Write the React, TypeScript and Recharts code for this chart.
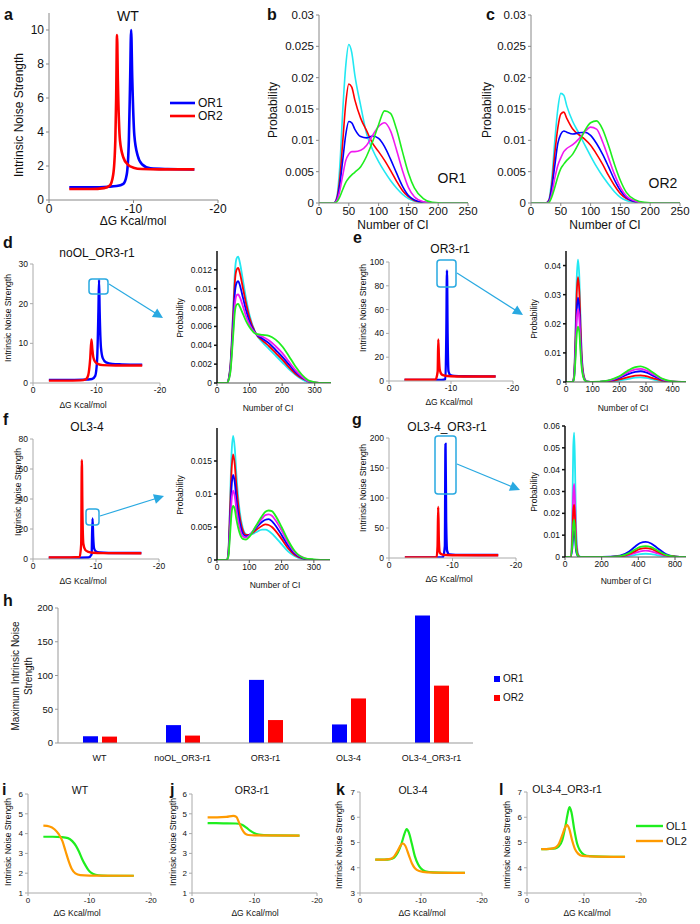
import React from "react";
import { LineChart, Line, XAxis, YAxis, BarChart, Bar } from "recharts";

const FONT = "'Liberation Sans', Arial, Helvetica, sans-serif";

const BLUE = "#0000FF";
const RED = "#FF0000";
const CYAN = "#22E8F2";
const MAGENTA = "#F019F0";
const GREEN = "#1EEE1E";
const ORANGE = "#FF9A00";
const SKY = "#29A9E1";

// ---- a: WT noise strength
const aOR1X = [-2.4, -5, -7, -8, -8.8, -9.2, -9.45, -9.6, -9.72, -9.85, -10.1, -10.5, -11, -12, -14, -17.2];
const aOR1Y = [0.75, 0.75, 0.78, 0.82, 0.95, 1.5, 3.5, 7, 10, 7.2, 3.8, 2.6, 2.1, 1.86, 1.82, 1.8];
const aOR2X = [-2.4, -5, -6.5, -7.2, -7.6, -7.85, -7.95, -8.05, -8.15, -8.4, -8.8, -9.3, -10, -11, -13, -17.2];
const aOR2Y = [0.65, 0.65, 0.7, 0.85, 1.5, 3.5, 6, 9.7, 7, 3.5, 2.5, 2.1, 1.9, 1.82, 1.8, 1.8];

// ---- b: OR1 distributions
const bX = [0, 25, 30, 35, 40, 45, 50, 55, 60, 70, 80, 90, 100, 110, 120, 130, 140, 150, 160, 175, 190, 210, 250];
const bCyan = [0, 0, 0.001, 0.006, 0.015, 0.022, 0.0253, 0.024, 0.0205, 0.0155, 0.011, 0.0085, 0.0066, 0.005, 0.0036, 0.0024, 0.0014, 0.0007, 0.0003, 0.0001, 0, 0, 0];
const bRed = [0, 0, 0.0008, 0.004, 0.01, 0.016, 0.019, 0.0185, 0.0165, 0.0135, 0.0115, 0.0095, 0.0082, 0.0068, 0.0052, 0.0035, 0.002, 0.001, 0.0004, 0.0001, 0, 0, 0];
const bBlue = [0, 0, 0.0006, 0.003, 0.007, 0.011, 0.013, 0.0128, 0.0118, 0.0106, 0.0104, 0.0107, 0.0103, 0.009, 0.007, 0.0048, 0.0027, 0.0012, 0.0005, 0.0001, 0, 0, 0];
const bMagenta = [0, 0, 0.0004, 0.002, 0.0045, 0.0068, 0.0078, 0.0082, 0.0082, 0.0084, 0.0092, 0.0108, 0.0122, 0.0128, 0.0115, 0.0085, 0.0052, 0.0025, 0.001, 0.0002, 0, 0, 0];
const bGreen = [0, 0, 0.0002, 0.001, 0.0022, 0.0033, 0.004, 0.0045, 0.0049, 0.0058, 0.0075, 0.0098, 0.0125, 0.0147, 0.0143, 0.0118, 0.0082, 0.0048, 0.0024, 0.0007, 0.0001, 0, 0];

// ---- c: OR2 distributions
const cX = bX;
const cCyan = [0, 0, 0.0005, 0.004, 0.01, 0.015, 0.0175, 0.0172, 0.0155, 0.013, 0.0112, 0.0093, 0.0075, 0.0058, 0.0043, 0.003, 0.0018, 0.0009, 0.0004, 0.0001, 0, 0, 0];
const cRed = [0, 0, 0.0004, 0.003, 0.008, 0.012, 0.0142, 0.0145, 0.0135, 0.0118, 0.0109, 0.0102, 0.0092, 0.0078, 0.0062, 0.0044, 0.0028, 0.0015, 0.0007, 0.0002, 0, 0, 0];
const cBlue = [0, 0, 0.0003, 0.0025, 0.006, 0.0095, 0.011, 0.0115, 0.0113, 0.011, 0.0112, 0.0113, 0.0108, 0.0095, 0.0078, 0.0058, 0.0037, 0.002, 0.0009, 0.0002, 0, 0, 0];
const cMagenta = [0, 0, 0.0002, 0.0015, 0.004, 0.006, 0.0072, 0.0082, 0.0087, 0.0093, 0.0102, 0.0113, 0.0121, 0.0118, 0.0098, 0.0072, 0.0046, 0.0025, 0.0011, 0.0003, 0, 0, 0];
const cGreen = [0, 0, 0.0001, 0.001, 0.0025, 0.0042, 0.0055, 0.0062, 0.0068, 0.0078, 0.0095, 0.0115, 0.0128, 0.0131, 0.0118, 0.0092, 0.0062, 0.0036, 0.0017, 0.0005, 0.0001, 0, 0];

// ---- d: noOL_OR3-r1
const dOR1X = [-2.5, -5, -8, -9.3, -9.8, -10.1, -10.3, -10.4, -10.5, -10.7, -11, -11.5, -12.5, -14, -17.2];
const dOR1Y = [0.8, 0.8, 0.85, 1.0, 1.8, 6, 18, 26, 18, 9, 6.2, 5.2, 4.8, 4.7, 4.6];
const dOR2X = [-2.5, -5, -7.5, -8.3, -8.7, -9.0, -9.2, -9.35, -9.5, -9.8, -10.2, -11, -13, -17.2];
const dOR2Y = [0.6, 0.6, 0.65, 0.9, 2, 6, 11, 8.5, 6.5, 5.3, 4.8, 4.5, 4.4, 4.4];
const dX = [0, 30, 40, 50, 55, 60, 65, 70, 80, 90, 100, 120, 140, 160, 180, 200, 220, 240, 260, 280, 300, 320, 350];
const dCyan = [0, 0, 0.0015, 0.008, 0.0118, 0.0132, 0.0134, 0.0128, 0.0108, 0.0088, 0.0072, 0.0052, 0.0043, 0.0036, 0.0029, 0.0022, 0.0015, 0.0009, 0.0004, 0.0001, 0, 0, 0];
const dRed = [0, 0, 0.0014, 0.0075, 0.0108, 0.012, 0.0122, 0.0117, 0.01, 0.0083, 0.0069, 0.0052, 0.0045, 0.0039, 0.0032, 0.0025, 0.0017, 0.001, 0.0005, 0.0002, 0, 0, 0];
const dBlue = [0, 0, 0.0012, 0.0066, 0.0096, 0.0106, 0.0108, 0.0104, 0.009, 0.0076, 0.0065, 0.0052, 0.0047, 0.0042, 0.0035, 0.0028, 0.002, 0.0012, 0.0006, 0.0002, 0, 0, 0];
const dMagenta = [0, 0, 0.001, 0.0058, 0.0084, 0.0093, 0.0094, 0.0091, 0.0081, 0.007, 0.0062, 0.0052, 0.0049, 0.0045, 0.0039, 0.0032, 0.0023, 0.0014, 0.0007, 0.0002, 0.0001, 0, 0];
const dGreen = [0, 0, 0.0009, 0.0052, 0.0076, 0.0083, 0.0084, 0.0081, 0.0073, 0.0065, 0.0059, 0.0052, 0.0051, 0.005, 0.0046, 0.0039, 0.0029, 0.0018, 0.0009, 0.0003, 0.0001, 0, 0];

// ---- e: OR3-r1
const eOR1X = [-2.5, -6, -8.5, -9.1, -9.25, -9.35, -9.45, -9.6, -9.9, -10.5, -12, -17.2];
const eOR1Y = [0.8, 0.8, 0.9, 1.5, 40, 93, 40, 8, 5, 4.3, 4, 3.9];
const eOR2X = [-2.5, -6, -7.5, -7.85, -7.95, -8.05, -8.2, -8.5, -9, -10, -12, -17.2];
const eOR2Y = [1, 1, 1.2, 8, 35, 20, 9, 5.5, 4.5, 4, 3.8, 3.8];
const eX = [0, 25, 30, 35, 40, 45, 50, 55, 60, 70, 80, 100, 150, 180, 200, 230, 260, 280, 300, 330, 360, 400, 450];
const eCyan = [0, 0, 0.002, 0.015, 0.035, 0.042, 0.036, 0.02, 0.008, 0.0012, 0.0001, 0, 0.0001, 0.0003, 0.0005, 0.001, 0.0015, 0.0016, 0.0014, 0.0008, 0.0003, 0, 0];
const eRed = [0, 0, 0.002, 0.013, 0.03, 0.036, 0.031, 0.018, 0.007, 0.001, 0.0001, 0, 0.0002, 0.0005, 0.0009, 0.0016, 0.0022, 0.0023, 0.002, 0.0012, 0.0005, 0.0001, 0];
const eBlue = [0, 0, 0.0015, 0.01, 0.024, 0.029, 0.025, 0.014, 0.0055, 0.0008, 0.0001, 0, 0.0003, 0.0008, 0.0014, 0.0026, 0.0035, 0.0037, 0.0033, 0.002, 0.0008, 0.0001, 0];
const eMagenta = [0, 0, 0.0013, 0.009, 0.021, 0.025, 0.022, 0.012, 0.005, 0.0007, 0.0001, 0, 0.0003, 0.001, 0.0017, 0.0032, 0.0043, 0.0045, 0.004, 0.0025, 0.001, 0.0002, 0];
const eGreen = [0, 0, 0.001, 0.007, 0.016, 0.019, 0.017, 0.0095, 0.004, 0.0006, 0.0001, 0, 0.0004, 0.0012, 0.002, 0.0038, 0.0051, 0.0054, 0.0048, 0.003, 0.0012, 0.0002, 0];

// ---- f: OL3-4
const fOR1X = [-2.5, -6, -8.8, -9.3, -9.45, -9.55, -9.7, -10, -10.5, -12, -17.2];
const fOR1Y = [0.8, 0.8, 1.0, 3, 27, 15, 7, 5, 4.3, 4, 4];
const fOR2X = [-2.5, -6, -7.4, -7.65, -7.75, -7.85, -8.0, -8.3, -8.8, -9.5, -11, -17.2];
const fOR2Y = [1, 1, 1.3, 10, 66, 30, 10, 6, 4.8, 4.2, 3.9, 3.8];
const fX = [0, 30, 35, 40, 45, 50, 55, 60, 70, 80, 90, 100, 120, 140, 150, 160, 170, 180, 200, 220, 240, 270, 300, 350];
const fCyan = [0, 0, 0.001, 0.008, 0.016, 0.0188, 0.017, 0.013, 0.0075, 0.0048, 0.0039, 0.0038, 0.0042, 0.0046, 0.0046, 0.0044, 0.004, 0.0035, 0.0024, 0.0013, 0.0006, 0.0001, 0, 0];
const fRed = [0, 0, 0.001, 0.007, 0.0135, 0.016, 0.0145, 0.0113, 0.0067, 0.0045, 0.0038, 0.0038, 0.0045, 0.0052, 0.0054, 0.0053, 0.005, 0.0045, 0.0032, 0.0018, 0.0008, 0.0002, 0, 0];
const fBlue = [0, 0, 0.0008, 0.0055, 0.011, 0.0129, 0.0118, 0.0092, 0.0058, 0.004, 0.0036, 0.0038, 0.0048, 0.0058, 0.0061, 0.0062, 0.0059, 0.0053, 0.0038, 0.0022, 0.001, 0.0002, 0, 0];
const fMagenta = [0, 0, 0.0006, 0.0045, 0.009, 0.0105, 0.0097, 0.0077, 0.0049, 0.0036, 0.0034, 0.0037, 0.005, 0.0063, 0.0068, 0.0069, 0.0067, 0.0061, 0.0045, 0.0026, 0.0012, 0.0003, 0, 0];
const fGreen = [0, 0, 0.0005, 0.0035, 0.007, 0.0082, 0.0077, 0.0062, 0.0041, 0.0032, 0.0031, 0.0035, 0.0051, 0.0067, 0.0073, 0.0075, 0.0074, 0.0068, 0.005, 0.003, 0.0014, 0.0003, 0.0001, 0];

// ---- g: OL3-4_OR3-r1
const gOR1X = [-2.5, -6, -8.5, -8.8, -8.9, -9.0, -9.15, -9.5, -10.5, -17.2];
const gOR1Y = [0.8, 0.8, 1.5, 20, 190, 60, 12, 6, 5.2, 5];
const gOR2X = [-2.5, -6, -7.5, -7.65, -7.75, -7.85, -8.0, -8.3, -9, -11, -17.2];
const gOR2Y = [1, 1, 1.5, 20, 85, 30, 9, 6, 5, 4.6, 4.5];
const gX = [0, 30, 40, 45, 50, 55, 60, 70, 80, 100, 200, 300, 350, 380, 410, 440, 470, 500, 550, 600, 660];
const gCyan = [0, 0, 0.02, 0.05, 0.057, 0.04, 0.015, 0.002, 0.0002, 0, 0, 0.0001, 0.0005, 0.0009, 0.0013, 0.0015, 0.0013, 0.0009, 0.0003, 0.0001, 0];
const gMagenta = [0, 0, 0.012, 0.029, 0.0335, 0.024, 0.009, 0.0012, 0.0001, 0, 0, 0.0002, 0.001, 0.0018, 0.0026, 0.0029, 0.0026, 0.0018, 0.0006, 0.0001, 0];
const gRed = [0, 0, 0.008, 0.021, 0.024, 0.017, 0.0065, 0.0009, 0.0001, 0, 0, 0.0003, 0.0014, 0.0026, 0.0037, 0.0041, 0.0037, 0.0026, 0.0008, 0.0002, 0];
const gGreen = [0, 0, 0.006, 0.015, 0.017, 0.012, 0.0045, 0.0006, 0.0001, 0, 0, 0.0004, 0.0018, 0.0033, 0.0046, 0.005, 0.0045, 0.0032, 0.001, 0.0002, 0];
const gBlue = [0, 0, 0.004, 0.01, 0.012, 0.0085, 0.003, 0.0004, 0, 0, 0, 0.0006, 0.0025, 0.0046, 0.0064, 0.0069, 0.0062, 0.0044, 0.0014, 0.0003, 0];
const gTickLabels = ["0", "200", "400", "800"];

// ---- h: maximum noise strength
const hCategories = ["WT", "noOL_OR3-r1", "OR3-r1", "OL3-4", "OL3-4_OR3-r1"];
const hOR1 = [10, 26.5, 93.5, 27.5, 189];
const hOR2 = [9.5, 11, 34, 66, 85];

// ---- i-l: OL1 / OL2
const iOL1X = [-2.5, -4, -5.5, -6.5, -7.2, -7.8, -8.3, -8.8, -9.3, -9.8, -10.3, -11, -12, -14, -17.2];
const iOL1Y = [3.84, 3.84, 3.82, 3.77, 3.62, 3.38, 3.08, 2.72, 2.42, 2.17, 2.02, 1.92, 1.88, 1.87, 1.87];
const iOL2X = [-2.5, -3.5, -4.3, -5, -5.6, -6.1, -6.6, -7.1, -7.7, -8.5, -10, -17.2];
const iOL2Y = [4.4, 4.36, 4.22, 3.97, 3.62, 3.12, 2.62, 2.22, 1.99, 1.9, 1.88, 1.87];
const jOL1X = [-2.5, -5, -7, -8, -8.7, -9.3, -10, -10.7, -11.5, -13, -17.2];
const jOL1Y = [4.53, 4.52, 4.51, 4.45, 4.3, 4.15, 4.02, 3.95, 3.92, 3.91, 3.9];
const jOL2X = [-2.5, -4, -5.5, -6.6, -7.1, -7.5, -8, -8.5, -9, -10, -17.2];
const jOL2Y = [4.82, 4.82, 4.84, 4.9, 4.84, 4.58, 4.22, 4.0, 3.93, 3.91, 3.9];
const kOL1X = [-2.5, -4, -5, -5.6, -6.2, -6.8, -7.3, -7.65, -8, -8.5, -9, -9.5, -10, -10.7, -12, -17.2];
const kOL1Y = [4.32, 4.32, 4.34, 4.4, 4.6, 4.95, 5.35, 5.53, 5.4, 4.95, 4.45, 4.15, 3.97, 3.86, 3.82, 3.8];
const kOL2X = [-2.5, -4, -5, -5.6, -6.2, -6.7, -7.0, -7.4, -8, -8.5, -9, -9.7, -11, -17.2];
const kOL2Y = [4.32, 4.32, 4.35, 4.45, 4.68, 4.9, 4.97, 4.88, 4.5, 4.18, 3.98, 3.87, 3.82, 3.8];
const lOL1X = [-2.5, -4, -5, -5.6, -6.2, -6.7, -7.1, -7.45, -7.8, -8.3, -8.8, -9.3, -10, -11, -13, -17.2];
const lOL1Y = [4.74, 4.75, 4.77, 4.85, 5.1, 5.6, 6.1, 6.4, 6.2, 5.5, 4.95, 4.68, 4.52, 4.46, 4.44, 4.43];
const lOL2X = [-2.5, -4, -5, -5.6, -6.2, -6.7, -7.0, -7.4, -7.9, -8.4, -9, -9.7, -11, -17.2];
const lOL2Y = [4.74, 4.75, 4.8, 4.95, 5.3, 5.6, 5.7, 5.55, 5.1, 4.75, 4.55, 4.47, 4.45, 4.43];

const dgTicks = [0, -10, -20];
const zip = (xs: number[], ys: number[]) => xs.map((x, i) => ({ x, y: ys[i] }));

type S = { name: string; color: string; xs: number[]; ys: number[] };

function LinePanel(p: {
  box: number[];
  xDomain: number[];
  xTicks: number[];
  xFmt?: (v: number, i: number) => string;
  reversed?: boolean;
  yDomain: number[];
  yTicks: number[];
  series: S[];
  fs: number;
  yw: number;
  xh?: number;
  mr?: number;
  sw: number;
  axis?: string;
  yAxisColor?: string;
  yAxisWidth?: number;
}) {
  const [x0, y0, x1, y1] = p.box;
  const mt = 6;
  const mr = p.mr ?? 8;
  const xh = p.xh ?? 16;
  const w = x1 - x0 + p.yw + mr;
  const h = y1 - y0 + mt + xh;
  const axis = p.axis ?? "#999";
  return (
    <div style={{ position: "absolute", left: x0 - p.yw, top: y0 - mt }}>
      <LineChart width={w} height={h} margin={{ top: mt, right: mr, left: 0, bottom: 0 }}>
        <XAxis
          dataKey="x"
          type="number"
          domain={p.xDomain}
          ticks={p.xTicks}
          reversed={p.reversed}
          allowDataOverflow
          interval={0}
          height={xh}
          tickSize={3}
          tickMargin={1}
          stroke={axis}
          tick={{ fontSize: p.fs, fill: "#111" }}
          tickFormatter={p.xFmt}
        />
        <YAxis
          type="number"
          domain={p.yDomain}
          ticks={p.yTicks}
          allowDataOverflow
          interval={0}
          width={p.yw}
          tickSize={3}
          tickMargin={2}
          stroke={p.yAxisColor ?? axis}
          strokeWidth={p.yAxisWidth ?? 1}
          tick={{ fontSize: p.fs, fill: "#111" }}
        />
        {p.series.map((s) => (
          <Line
            key={s.name}
            name={s.name}
            data={zip(s.xs, s.ys)}
            dataKey="y"
            type="monotone"
            stroke={s.color}
            strokeWidth={p.sw}
            dot={false}
            isAnimationActive={false}
          />
        ))}
      </LineChart>
    </div>
  );
}

function T(p: { x: number; y: number; s: number; rot?: boolean; bold?: boolean; a?: string; children: React.ReactNode }) {
  const tx = p.a === "start" ? "0" : "-50%";
  return (
    <div
      style={{
        position: "absolute",
        left: p.x,
        top: p.y,
        fontSize: p.s,
        fontWeight: p.bold ? 700 : 400,
        lineHeight: 1,
        whiteSpace: "nowrap",
        color: "#111",
        transform: `translate(${tx}, -50%)${p.rot ? " rotate(-90deg)" : ""}`,
      }}
    >
      {p.children}
    </div>
  );
}

function arrowHead(x1: number, y1: number, x2: number, y2: number) {
  const dx = x2 - x1;
  const dy = y2 - y1;
  const len = Math.hypot(dx, dy);
  const ux = dx / len;
  const uy = dy / len;
  const bx = x2 - ux * 10;
  const by = y2 - uy * 10;
  const px = -uy * 5;
  const py = ux * 5;
  return `${x2},${y2} ${bx + px},${by + py} ${bx - px},${by - py}`;
}

function Callout({ r, a }: { r: number[]; a: number[] }) {
  return (
    <g>
      <rect x={r[0]} y={r[1]} width={r[2]} height={r[3]} rx={3} fill="none" stroke={SKY} strokeWidth={1.5} />
      <line x1={a[0]} y1={a[1]} x2={a[2] - (a[2] - a[0]) * 0.1} y2={a[3] - (a[3] - a[1]) * 0.1} stroke={SKY} strokeWidth={1.2} />
      <polygon points={arrowHead(a[0], a[1], a[2], a[3])} fill={SKY} />
    </g>
  );
}

const distSeries = (xs: number[], c: number[], r: number[], b: number[], m: number[], g: number[]): S[] => [
  { name: "cyan", color: CYAN, xs, ys: c },
  { name: "red", color: RED, xs, ys: r },
  { name: "blue", color: BLUE, xs, ys: b },
  { name: "magenta", color: MAGENTA, xs, ys: m },
  { name: "green", color: GREEN, xs, ys: g },
];

const orSeries = (bx: number[], by: number[], rx: number[], ry: number[]): S[] => [
  { name: "OR1", color: BLUE, xs: bx, ys: by },
  { name: "OR2", color: RED, xs: rx, ys: ry },
];

const olSeries = (gx: number[], gy: number[], ox: number[], oy: number[]): S[] => [
  { name: "OL1", color: GREEN, xs: gx, ys: gy },
  { name: "OL2", color: ORANGE, xs: ox, ys: oy },
];

export default function App() {
  const hData = hCategories.map((c, i) => ({ name: c, OR1: hOR1[i], OR2: hOR2[i] }));
  const probTicksB = [0, 0.005, 0.01, 0.015, 0.02, 0.025, 0.03];

  return (
    <div style={{ position: "relative", width: 700, height: 924, fontFamily: FONT, background: "#fff", overflow: "hidden" }}>
      <style>{`body{margin:0}`}</style>

      {/* a */}
      <LinePanel box={[49, 13, 218, 200]} xDomain={[-20, 0]} xTicks={dgTicks} reversed yDomain={[0, 11]} yTicks={[0, 2, 4, 6, 8, 10]}
        series={orSeries(aOR1X, aOR1Y, aOR2X, aOR2Y)} fs={12} yw={30} xh={18} mr={14} sw={2.6} axis="#888" />
      {/* b */}
      <LinePanel box={[319, 15, 468, 203]} xDomain={[0, 250]} xTicks={[0, 50, 100, 150, 200, 250]} yDomain={[0, 0.03]} yTicks={probTicksB}
        series={distSeries(bX, bCyan, bRed, bBlue, bMagenta, bGreen)} fs={11.5} yw={44} xh={18} mr={14} sw={1.6} axis="#888" />
      {/* c */}
      <LinePanel box={[531, 15, 680, 203]} xDomain={[0, 250]} xTicks={[0, 50, 100, 150, 200, 250]} yDomain={[0, 0.03]} yTicks={probTicksB}
        series={distSeries(cX, cCyan, cRed, cBlue, cMagenta, cGreen)} fs={11.5} yw={44} xh={18} mr={16} sw={1.6} axis="#888" />

      {/* d */}
      <LinePanel box={[33, 264, 160, 383]} xDomain={[-20, 0]} xTicks={dgTicks} reversed yDomain={[0, 30]} yTicks={[0, 10, 20, 30]}
        series={orSeries(dOR1X, dOR1Y, dOR2X, dOR2Y)} fs={8.5} yw={22} mr={10} sw={2.4} axis="#aaa" />
      <LinePanel box={[217, 251, 331, 383]} xDomain={[0, 350]} xTicks={[0, 100, 200, 300]} yDomain={[0, 0.014]} yTicks={[0, 0.002, 0.004, 0.006, 0.008, 0.01, 0.012]}
        series={distSeries(dX, dCyan, dRed, dBlue, dMagenta, dGreen)} fs={8.5} yw={40} sw={1.8} axis="#555" yAxisColor="#111" yAxisWidth={1.5} />

      {/* e */}
      <LinePanel box={[389, 262, 513, 381]} xDomain={[-20, 0]} xTicks={dgTicks} reversed yDomain={[0, 100]} yTicks={[0, 20, 40, 60, 80, 100]}
        series={orSeries(eOR1X, eOR1Y, eOR2X, eOR2Y)} fs={8.5} yw={24} mr={10} sw={2.4} axis="#aaa" />
      <LinePanel box={[566, 251, 686, 382]} xDomain={[0, 450]} xTicks={[0, 100, 200, 300, 400]} yDomain={[0, 0.045]} yTicks={[0, 0.01, 0.02, 0.03, 0.04]}
        series={distSeries(eX, eCyan, eRed, eBlue, eMagenta, eGreen)} fs={8.5} yw={34} sw={1.8} axis="#555" yAxisColor="#111" yAxisWidth={1.5} />

      {/* f */}
      <LinePanel box={[33, 439, 159, 559]} xDomain={[-20, 0]} xTicks={dgTicks} reversed yDomain={[0, 80]} yTicks={[0, 20, 40, 60, 80]}
        series={orSeries(fOR1X, fOR1Y, fOR2X, fOR2Y)} fs={8.5} yw={22} mr={10} sw={2.4} axis="#aaa" />
      <LinePanel box={[217, 428, 330, 560]} xDomain={[0, 350]} xTicks={[0, 100, 200, 300]} yDomain={[0, 0.02]} yTicks={[0, 0.005, 0.01, 0.015]}
        series={distSeries(fX, fCyan, fRed, fBlue, fMagenta, fGreen)} fs={8.5} yw={40} sw={1.8} axis="#555" yAxisColor="#111" yAxisWidth={1.5} />

      {/* g */}
      <LinePanel box={[389, 438, 516, 558]} xDomain={[-20, 0]} xTicks={dgTicks} reversed yDomain={[0, 200]} yTicks={[0, 50, 100, 150, 200]}
        series={orSeries(gOR1X, gOR1Y, gOR2X, gOR2Y)} fs={8.5} yw={24} mr={10} sw={2.4} axis="#aaa" />
      <LinePanel box={[565, 426, 686, 557]} xDomain={[0, 660]} xTicks={[0, 200, 400, 600]} xFmt={(_v, i) => gTickLabels[i]} yDomain={[0, 0.06]}
        yTicks={[0, 0.01, 0.02, 0.03, 0.04, 0.05, 0.06]}
        series={[
          { name: "blue", color: BLUE, xs: gX, ys: gBlue },
          { name: "cyan", color: CYAN, xs: gX, ys: gCyan },
          { name: "magenta", color: MAGENTA, xs: gX, ys: gMagenta },
          { name: "red", color: RED, xs: gX, ys: gRed },
          { name: "green", color: GREEN, xs: gX, ys: gGreen },
        ]}
        fs={8.5} yw={34} sw={1.8} axis="#555" yAxisColor="#111" yAxisWidth={1.5} />

      {/* h */}
      <div style={{ position: "absolute", left: 58 - 30, top: 608 - 6 }}>
        <BarChart width={415 + 30 + 8} height={135 + 6 + 24} data={hData} margin={{ top: 6, right: 8, left: 0, bottom: 0 }} barSize={15} barGap={4}>
          <XAxis dataKey="name" height={24} tickSize={0} tickMargin={12} stroke="#999" tick={{ fontSize: 9, fill: "#111" }} interval={0} />
          <YAxis domain={[0, 200]} ticks={[0, 50, 100, 150, 200]} width={30} tickSize={3} tickMargin={2} stroke="#999" tick={{ fontSize: 9.5, fill: "#111" }} />
          <Bar dataKey="OR1" fill={BLUE} isAnimationActive={false} />
          <Bar dataKey="OR2" fill={RED} isAnimationActive={false} />
        </BarChart>
      </div>

      {/* i-l */}
      <LinePanel box={[28, 794, 151, 893]} xDomain={[-20, 0]} xTicks={dgTicks} reversed yDomain={[1, 6]} yTicks={[1, 2, 3, 4, 5, 6]}
        series={olSeries(iOL1X, iOL1Y, iOL2X, iOL2Y)} fs={8} yw={14} mr={10} sw={2.2} axis="#aaa" />
      <LinePanel box={[192, 794, 317, 893]} xDomain={[-20, 0]} xTicks={dgTicks} reversed yDomain={[1, 6]} yTicks={[1, 2, 3, 4, 5, 6]}
        series={olSeries(jOL1X, jOL1Y, jOL2X, jOL2Y)} fs={8} yw={14} mr={10} sw={2.2} axis="#aaa" />
      <LinePanel box={[360, 792, 482, 893]} xDomain={[-20, 0]} xTicks={dgTicks} reversed yDomain={[3, 7]} yTicks={[3, 4, 5, 6, 7]}
        series={olSeries(kOL1X, kOL1Y, kOL2X, kOL2Y)} fs={8} yw={14} mr={10} sw={2.2} axis="#aaa" />
      <LinePanel box={[527, 792, 641, 893]} xDomain={[-20, 0]} xTicks={dgTicks} reversed yDomain={[3, 7]} yTicks={[3, 4, 5, 6, 7]}
        series={olSeries(lOL1X, lOL1Y, lOL2X, lOL2Y)} fs={8} yw={14} mr={10} sw={2.2} axis="#aaa" />

      {/* overlay: callouts and legends */}
      <svg width={700} height={924} style={{ position: "absolute", left: 0, top: 0, pointerEvents: "none" }}>
        <Callout r={[89, 279, 19, 15]} a={[109, 284, 163, 318]} />
        <Callout r={[437, 260, 19, 27]} a={[457, 273, 523, 315]} />
        <Callout r={[86, 509, 13, 16]} a={[100, 516, 164, 496]} />
        <Callout r={[435, 436, 21, 58]} a={[457, 464, 520, 490]} />
        <line x1={170} y1={103} x2={195} y2={103} stroke={BLUE} strokeWidth={2.6} />
        <line x1={170} y1={116} x2={195} y2={116} stroke={RED} strokeWidth={2.6} />
        <line x1={636} y1={826} x2={663} y2={826} stroke={GREEN} strokeWidth={2.4} />
        <line x1={636} y1={841} x2={663} y2={841} stroke={ORANGE} strokeWidth={2.4} />
        <rect x={494} y={676} width={6} height={6} fill={BLUE} />
        <rect x={494} y={695} width={6} height={6} fill={RED} />
      </svg>

      {/* panel letters */}
      <T x={4} y={15} s={16} bold a="start">a</T>
      <T x={267} y={15} s={16} bold a="start">b</T>
      <T x={486} y={15} s={16} bold a="start">c</T>
      <T x={3} y={243} s={16} bold a="start">d</T>
      <T x={353} y={238} s={16} bold a="start">e</T>
      <T x={3} y={420} s={16} bold a="start">f</T>
      <T x={352} y={420} s={16} bold a="start">g</T>
      <T x={3} y={601} s={16} bold a="start">h</T>
      <T x={2} y={790} s={16} bold a="start">i</T>
      <T x={170} y={790} s={16} bold a="start">j</T>
      <T x={336} y={790} s={16} bold a="start">k</T>
      <T x={499} y={790} s={16} bold a="start">l</T>

      {/* a texts */}
      <T x={128} y={16} s={14}>WT</T>
      <T x={133} y={221} s={12}>ΔG Kcal/mol</T>
      <T x={19} y={115} s={12} rot>Intrinsic Noise Strength</T>
      <T x={198} y={103} s={12} a="start">OR1</T>
      <T x={198} y={116} s={12} a="start">OR2</T>

      {/* b, c texts */}
      <T x={393} y={225} s={12}>Number of CI</T>
      <T x={273} y={110} s={12} rot>Probability</T>
      <T x={452} y={178} s={14}>OR1</T>
      <T x={605} y={225} s={12}>Number of CI</T>
      <T x={487} y={110} s={12} rot>Probability</T>
      <T x={663} y={183} s={14}>OR2</T>

      {/* d texts */}
      <T x={97} y={253} s={12}>noOL_OR3-r1</T>
      <T x={83} y={405} s={8.5}>ΔG Kcal/mol</T>
      <T x={8} y={318} s={8.5} rot>Intrinsic Noise Strength</T>
      <T x={268} y={408} s={8.5}>Number of CI</T>
      <T x={180} y={318} s={8.5} rot>Probability</T>

      {/* e texts */}
      <T x={450} y={249} s={12}>OR3-r1</T>
      <T x={449} y={402} s={8.5}>ΔG Kcal/mol</T>
      <T x={363} y={308} s={8.5} rot>Intrinsic Noise Strength</T>
      <T x={623} y={408} s={8.5}>Number of CI</T>
      <T x={534} y={319} s={8.5} rot>Probability</T>

      {/* f texts */}
      <T x={87} y={427} s={12}>OL3-4</T>
      <T x={83} y={581} s={8.5}>ΔG Kcal/mol</T>
      <T x={18} y={492} s={8.5} rot>Intrinsic Noise Strength</T>
      <T x={275} y={585} s={8.5}>Number of CI</T>
      <T x={180} y={495} s={8.5} rot>Probability</T>

      {/* g texts */}
      <T x={447} y={427} s={12}>OL3-4_OR3-r1</T>
      <T x={449} y={579} s={8.5}>ΔG Kcal/mol</T>
      <T x={363} y={488} s={8.5} rot>Intrinsic Noise Strength</T>
      <T x={626} y={581} s={8.5}>Number of CI</T>
      <T x={534} y={492} s={8.5} rot>Probability</T>

      {/* h texts */}
      <T x={16} y={676} s={10} rot>Maximum Intrinsic Noise</T>
      <T x={29} y={676} s={10} rot>Strength</T>
      <T x={503} y={679} s={10} a="start">OR1</T>
      <T x={503} y={698} s={10} a="start">OR2</T>

      {/* i-l texts */}
      <T x={80} y={790} s={10.5}>WT</T>
      <T x={77} y={913} s={8.5}>ΔG Kcal/mol</T>
      <T x={8} y={842} s={8.5} rot>Intrinsic Noise Strength</T>
      <T x={252} y={790} s={10.5}>OR3-r1</T>
      <T x={255} y={913} s={8.5}>ΔG Kcal/mol</T>
      <T x={173} y={842} s={8.5} rot>Intrinsic Noise Strength</T>
      <T x={413} y={790} s={10.5}>OL3-4</T>
      <T x={422} y={913} s={8.5}>ΔG Kcal/mol</T>
      <T x={339} y={845} s={8.5} rot>Intrinsic Noise Strength</T>
      <T x={567} y={789} s={10.5}>OL3-4_OR3-r1</T>
      <T x={587} y={913} s={8.5}>ΔG Kcal/mol</T>
      <T x={507} y={845} s={8.5} rot>Intrinsic Noise Strength</T>
      <T x={666} y={826} s={11} a="start">OL1</T>
      <T x={666} y={841} s={11} a="start">OL2</T>
    </div>
  );
}
